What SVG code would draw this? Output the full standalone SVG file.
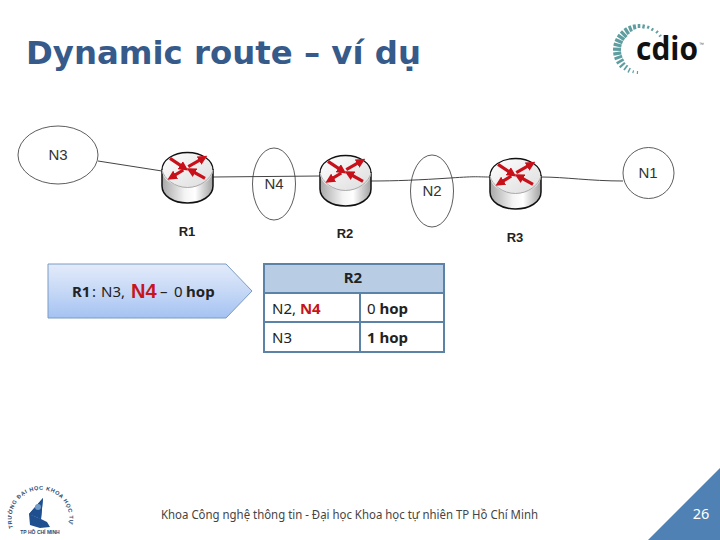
<svg xmlns="http://www.w3.org/2000/svg" width="720" height="540" viewBox="0 0 720 540">
<style>
.net{fill:none;stroke:#333;stroke-width:.8}
.lbl{font-family:"Liberation Sans",Arial,sans-serif;font-size:15px;fill:#333;text-anchor:middle}
.rl{font-family:"Liberation Sans",Arial,sans-serif;font-size:13px;font-weight:bold;fill:#222;text-anchor:middle}
.link{fill:none;stroke:#444;stroke-width:1}
.t{font-family:"Noto Sans",sans-serif;font-size:15px;fill:#222}
.b{font-weight:bold}
.red{fill:#c8141c;font-weight:bold}
.tick{stroke:#5f9ea0;fill:none}
.arr{stroke:#c8101a;stroke-width:3.200;fill:none}
.grid{fill:none;stroke:#5b83a8;stroke-width:2}
</style>
<defs>
<linearGradient id="body" x1="0" x2="1" y1="0" y2="0">
<stop offset="0" stop-color="#a8a8a8"/><stop offset=".45" stop-color="#f4f4f4"/><stop offset=".65" stop-color="#ffffff"/><stop offset="1" stop-color="#a0a0a0"/>
</linearGradient>
<linearGradient id="top" x1="0" x2="1" y1="0" y2="1">
<stop offset="0" stop-color="#ffffff"/><stop offset="1" stop-color="#dcdcdc"/>
</linearGradient>
<linearGradient id="pent" x1="0" x2="0" y1="0" y2="1">
<stop offset="0" stop-color="#e3ebfa"/><stop offset=".5" stop-color="#c6d8f6"/><stop offset="1" stop-color="#a4c2f2"/>
</linearGradient>
<marker id="ah" viewBox="0 0 10 10" refX="6" refY="5" markerWidth="3" markerHeight="3" orient="auto"><path d="M0 0L10 5L0 10z" fill="#c8101a"/></marker>
<g id="router">
<path d="M0 18V34C0 44 11.500 51 25.500 51S51 44 51 34V18z" fill="url(#body)" stroke="#111" stroke-width="1.500"/>
<ellipse cx="25.500" cy="18" rx="25.500" ry="17.500" fill="url(#top)"/>
<path d="M0 18C0 8 11.500 .5 25.500 .5S51 8 51 18" fill="none" stroke="#111" stroke-width="1.300"/>
<path d="M0 18C2 27 13 35.500 25.500 35.500S49 27 51 18" fill="none" stroke="#999" stroke-width=".8"/>
<line class="arr" x1="8" y1="6.300" x2="23" y2="16.300" marker-end="url(#ah)"/>
<line class="arr" x1="26.300" y1="14.700" x2="42" y2="5.700" marker-end="url(#ah)"/>
<line class="arr" x1="21.300" y1="18" x2="8.700" y2="25.700" marker-end="url(#ah)"/>
<line class="arr" x1="43" y1="26.300" x2="28" y2="18" marker-end="url(#ah)"/>
</g>
</defs>
<rect width="720" height="540" fill="#fff"/>
<text id="title" x="26" y="64" font-family="'DejaVu Sans',sans-serif" font-size="32" font-weight="bold" fill="#365a8a" textLength="395" lengthAdjust="spacingAndGlyphs">Dynamic route – ví dụ</text>

<g id="cdio-logo">
<g transform="translate(639 50)">
<line class="tick" stroke-width="1.200" x1="0" y1="-24" x2="0" y2="-21" transform="rotate(-176)"/>
<line class="tick" stroke-width="1.200" x1="0" y1="-24" x2="0" y2="-21" transform="rotate(-165)"/>
<line class="tick" stroke-width="1.500" x1="0" y1="-25" x2="0" y2="-20" transform="rotate(-154)"/>
<line class="tick" stroke-width="1.800" x1="0" y1="-25" x2="0" y2="-19" transform="rotate(-143)"/>
<line class="tick" stroke-width="2.200" x1="0" y1="-26" x2="0" y2="-19" transform="rotate(-132)"/>
<line class="tick" stroke-width="2.600" x1="0" y1="-26" x2="0" y2="-18" transform="rotate(-121)"/>
<line class="tick" stroke-width="3" x1="0" y1="-26" x2="0" y2="-18" transform="rotate(-110)"/>
<line class="tick" stroke-width="3.200" x1="0" y1="-26" x2="0" y2="-18" transform="rotate(-99)"/>
<line class="tick" stroke-width="3.200" x1="0" y1="-26" x2="0" y2="-18" transform="rotate(-88)"/>
<line class="tick" stroke-width="3.200" x1="0" y1="-26" x2="0" y2="-18" transform="rotate(-77)"/>
<line class="tick" stroke-width="3.200" x1="0" y1="-26" x2="0" y2="-18" transform="rotate(-66)"/>
<line class="tick" stroke-width="3.200" x1="0" y1="-26" x2="0" y2="-18" transform="rotate(-55)"/>
<line class="tick" stroke-width="3.200" x1="0" y1="-26" x2="0" y2="-18" transform="rotate(-44)"/>
<line class="tick" stroke-width="3.200" x1="0" y1="-26" x2="0" y2="-19" transform="rotate(-33)"/>
<line class="tick" stroke-width="3" x1="0" y1="-26" x2="0" y2="-20" transform="rotate(-22)"/>
<line class="tick" stroke-width="3" x1="0" y1="-26" x2="0" y2="-21" transform="rotate(-11)"/>
<line class="tick" stroke-width="2.600" x1="0" y1="-26" x2="0" y2="-22" transform="rotate(0)"/>
<line class="tick" stroke-width="2.400" x1="0" y1="-26" x2="0" y2="-22" transform="rotate(11)"/>
<line class="tick" stroke-width="2.200" x1="0" y1="-26" x2="0" y2="-23" transform="rotate(22)"/>
<line class="tick" stroke-width="2" x1="0" y1="-26" x2="0" y2="-23" transform="rotate(33)"/>
<line class="tick" stroke-width="1.800" x1="0" y1="-27" x2="0" y2="-24" transform="rotate(45)"/>
<line class="tick" stroke-width="1.500" x1="0" y1="-27" x2="0" y2="-24" transform="rotate(56)"/>
</g>
<text x="636" y="60" font-family="'Open Sans','Liberation Sans',sans-serif" font-size="32" font-weight="bold" fill="#111" textLength="62" lengthAdjust="spacingAndGlyphs">cdio</text>
<text x="699" y="46" font-family="'Liberation Sans',sans-serif" font-size="5" fill="#555">™</text>
</g>

<g id="connectors">
<path class="link" d="M98 161L162 171"/>
<path class="link" d="M213 177L320 176" stroke-width="1.300"/>
<path class="link" d="M371 181C395 181 420 180 450 178S475 177 490 177"/>
<path class="link" d="M541 177C565 177 590 181 623 181"/>
</g>

<g id="N3"><ellipse class="net" cx="58" cy="155" rx="40" ry="29"/><text class="lbl" x="58" y="160">N3</text></g>
<g id="N4"><ellipse class="net" cx="274" cy="184" rx="21.500" ry="36"/><text class="lbl" x="274" y="189">N4</text></g>
<g id="N2"><ellipse class="net" cx="432" cy="191" rx="21.500" ry="36"/><text class="lbl" x="432" y="196">N2</text></g>
<g id="N1"><circle class="net" cx="648.500" cy="173" r="25.500"/><text class="lbl" x="648" y="178">N1</text></g>

<g id="R1"><use href="#router" x="162" y="152"/><text class="rl" x="187" y="236">R1</text></g>
<g id="R2"><use href="#router" x="320" y="155"/><text class="rl" x="345" y="238">R2</text></g>
<g id="R3"><use href="#router" x="490" y="158"/><text class="rl" x="515" y="242">R3</text></g>

<g id="callout">
<path d="M48 264H226L252 291L226 318H48z" fill="url(#pent)" stroke="#7b9bc4" stroke-width="1"/>
<text class="t" y="297" font-size="14.500"><tspan class="b" x="72">R1</tspan><tspan x="92">:</tspan><tspan x="101">N3,</tspan><tspan x="131" y="298" font-family="'Liberation Sans',sans-serif" font-size="20" class="red">N4</tspan><tspan x="160" y="297">–</tspan><tspan x="174">0</tspan><tspan class="b" x="186">hop</tspan></text>
</g>

<g id="table">
<rect x="264" y="264" width="180" height="29" fill="#b8cce4"/>
<rect class="grid" x="264" y="264" width="180" height="88"/>
<path class="grid" d="M264 293H444M264 322H444M360 293V352"/>
<text class="t b" x="353" y="283" text-anchor="middle">R2</text>
<text class="t" x="272" y="314">N2, <tspan class="red">N4</tspan></text>
<text class="t" x="367" y="314">0 <tspan class="b">hop</tspan></text>
<text class="t" x="272" y="343">N3</text>
<text class="t" x="367" y="343"><tspan class="b">1 hop</tspan></text>
</g>

<g id="university-logo">
<path d="M43 498L29 514L37 517L47 522L50 527L40 528L30 525L29 514L41 519z" fill="#1f4f8f"/>
<path d="M43 498L29 514L41 519z" fill="#1f4f8f"/>
<circle cx="38" cy="507" r="3" fill="#6f9bc9"/>
<path id="seal" d="M13 528A29 29 0 1 1 69 524" fill="none"/>
<text font-family="'Liberation Sans',sans-serif" font-size="5.500" font-weight="bold" fill="#2b4a6f" letter-spacing=".6"><textPath href="#seal">TRƯỜNG ĐẠI HỌC KHOA HỌC TỰ NHIÊN</textPath></text>
<text x="40" y="534" text-anchor="middle" font-family="'Liberation Sans',sans-serif" font-size="5" font-weight="bold" fill="#2b4a6f">TP HỒ CHÍ MINH</text>
</g>

<g id="footer">
<text x="161" y="519" font-family="'Noto Sans',sans-serif" font-size="12.500" fill="#444" textLength="377" lengthAdjust="spacingAndGlyphs">Khoa Công nghệ thông tin - Đại học Khoa học tự nhiên TP Hồ Chí Minh</text>
<path d="M720 468V540H648z" fill="#4f81b5"/>
<text x="701" y="519" text-anchor="middle" font-family="'Noto Sans',sans-serif" font-size="14.500" fill="#fff">26</text>
</g>
</svg>
